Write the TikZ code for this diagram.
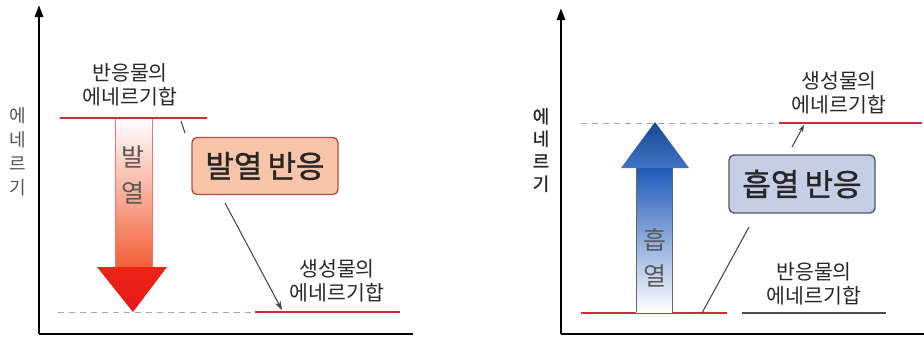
\documentclass[tikz,border=0pt]{standalone}
\usepackage{fontspec}
\newfontfamily\kr{Noto Sans CJK KR}
\newfontfamily\krb[FakeBold=1.2]{Noto Sans CJK KR}
\usetikzlibrary{arrows.meta}
\definecolor{lvl}{RGB}{205,45,55}
\definecolor{txt}{RGB}{40,40,40}
\definecolor{exofill}{RGB}{248,196,170}
\definecolor{exoline}{RGB}{175,80,65}
\definecolor{endofill}{RGB}{198,206,230}
\definecolor{endoline}{RGB}{80,88,110}
\definecolor{hotred}{RGB}{232,22,26}
\definecolor{hotorange}{RGB}{242,95,55}
\definecolor{coolblue}{RGB}{30,90,185}
\tikzset{
  axis/.style={line width=2.6pt, black},
  level/.style={line width=2.4pt, lvl},
  guide/.style={line width=1pt, gray!70, dash pattern=on 6pt off 5pt},
  plainlvl/.style={line width=1.4pt, gray!60!black},
  lbl/.style={font=\kr\fontsize{20.5}{24}\selectfont, text=txt, align=center, inner sep=0pt},
  vlbl/.style={font=\kr\fontsize{18}{24}\selectfont, text=txt!80, align=center, inner sep=0pt},
  arrlbl/.style={font=\kr\fontsize{25}{36}\selectfont, text=black!65, align=center, inner sep=0pt},
  exobox/.style={draw=exoline, line width=1.4pt, fill=exofill, rounded corners=5pt, minimum width=146pt, minimum height=57pt, inner sep=0pt, font=\krb\fontsize{31}{32}\selectfont, text=black!85},
  endobox/.style={draw=endoline, line width=1.4pt, fill=endofill, rounded corners=5pt, minimum width=146pt, minimum height=58pt, inner sep=0pt, font=\krb\fontsize{31}{32}\selectfont, text=black!85},
  leader/.style={line width=1pt, black!75},
}
\begin{document}
\begin{tikzpicture}[x=1pt,y=-1pt]
\path[use as bounding box, fill=white] (0,0) rectangle (924,341);

% ================= LEFT: exothermic =================
\coordinate (lO) at (39,334);
\coordinate (lTop) at (39,5);
\coordinate (lEnd) at (413,334);
\draw[axis, -{Triangle[length=12pt,width=8pt]}] (lO) -- (lTop);
\draw[axis] (lO) -- (lEnd);
\node[vlbl] (lylab) at (18,152) {에\\네\\르\\기};

% levels
\coordinate (rA) at (60,118);
\coordinate (rB) at (207,118);
\draw[level] (rA) -- (rB);
\coordinate (dA) at (58,312);
\coordinate (dB) at (254,312);
\draw[guide] (dA) -- (dB);
\coordinate (pA) at (255,312);
\coordinate (pB) at (400,312);
\draw[level] (pA) -- (pB);

\node[lbl] (lreact) at (130,85) {반응물의\\에네르기합};
\node[lbl] (lprod) at (337,281) {생성물의\\에네르기합};

% down arrow
\shade[top color=white, bottom color=hotorange] (115,119) rectangle (152,267);
\shade[top color=hotred!85!orange, bottom color=hotred] (97,267) -- (167,267) -- (133,312) -- cycle;
\draw[line width=0.8pt, hotred!60] (115,119) -- (115,267);
\draw[line width=0.8pt, hotred!60] (152,119) -- (152,267);
\node[arrlbl] (lhot) at (133,175) {발\\열};

% box
\node[exobox] (exo) at (265,166) {발열\,반응};
\coordinate (exoLeadA) at (185,133);
\coordinate (exoLeadB) at (181,121);
\draw[leader] (exoLeadA) -- (exoLeadB);
\coordinate (exoLeadC) at (225,203);
\coordinate (exoLeadD) at (282,310);
\draw[leader, -{Stealth[length=9pt,width=6pt]}] (exoLeadC) -- (exoLeadD);

% ================= RIGHT: endothermic =================
\coordinate (rO) at (561,334);
\coordinate (rTop) at (561,8);
\coordinate (rEnd) at (924,334);
\draw[axis, -{Triangle[length=12pt,width=8pt]}] (rO) -- (rTop);
\draw[axis] (rO) -- (rEnd);
\node[vlbl, text=black!85, font=\krb\fontsize{18}{22.5}\selectfont] (rylab) at (541,150) {에\\네\\르\\기};

\coordinate (uA) at (581,123);
\coordinate (uB) at (777,123);
\draw[guide] (uA) -- (uB);
\coordinate (qA) at (779,123);
\coordinate (qB) at (922,123);
\draw[level] (qA) -- (qB);
\coordinate (sA) at (581,313);
\coordinate (sB) at (727,313);
\draw[level] (sA) -- (sB);
\coordinate (tA) at (742,313);
\coordinate (tB) at (886,313);
\draw[plainlvl] (tA) -- (tB);

\node[lbl] (rprod) at (839,93) {생성물의\\에네르기합};
\node[lbl] (rreact) at (814,284) {반응물의\\에네르기합};

% up arrow
\shade[top color=coolblue, bottom color=white] (636,168) rectangle (672,312);
\shade[top color=coolblue!80!black, bottom color=coolblue!85!white] (621,168) -- (689,168) -- (655,122) -- cycle;
\draw[line width=0.8pt, black!60] (636,168) -- (636,312);
\draw[line width=0.8pt, black!60] (672,168) -- (672,312);
\node[arrlbl] (rcold) at (655,258) {흡\\열};

% box
\node[endobox] (endo) at (802,184) {흡열\,반응};
\coordinate (endoLeadA) at (749,227);
\coordinate (endoLeadB) at (702,313);
\draw[leader] (endoLeadA) -- (endoLeadB);
\coordinate (endoLeadC) at (792,147);
\coordinate (endoLeadD) at (804,125);
\draw[leader, -{Stealth[length=7pt,width=5pt]}] (endoLeadC) -- (endoLeadD);
\end{tikzpicture}
\end{document}
